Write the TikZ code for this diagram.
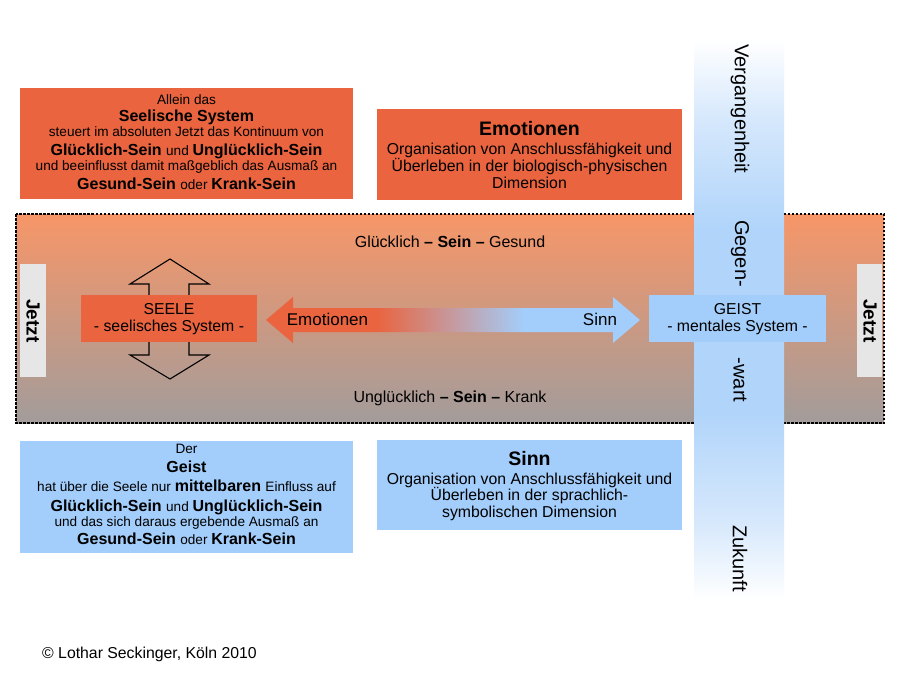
\documentclass[tikz,border=0pt]{standalone}
\usepackage{fontspec}
\setmainfont{Liberation Sans}
\definecolor{orangebox}{RGB}{233,100,63}
\definecolor{bluebox}{RGB}{163,205,250}
\definecolor{bandtop}{RGB}{247,150,104}
\definecolor{bandmid}{RGB}{220,150,122}
\definecolor{bandbot}{RGB}{162,156,155}
\definecolor{jetztbox}{RGB}{230,230,230}
\definecolor{barblue}{RGB}{176,212,250}
\definecolor{barlight}{RGB}{214,232,252}
\pgfdeclareverticalshading{barshade}{100bp}{color(0bp)=(white); color(25bp)=(white); color(32bp)=(barlight); color(42bp)=(barblue); color(58bp)=(barblue); color(68bp)=(barlight); color(75bp)=(white); color(100bp)=(white)}
\pgfdeclarehorizontalshading{arrowshade}{100bp}{color(0bp)=(orangebox); color(25bp)=(orangebox); color(39.8bp)=(orangebox); color(59.4bp)=(bluebox); color(75bp)=(bluebox); color(100bp)=(bluebox)}
\newcommand\Fsm{\fontsize{13.6}{15}\selectfont\mdseries}
\newcommand\Fbd{\fontsize{16}{18}\selectfont\bfseries}
\newcommand\Fmd{\fontsize{15.8}{18}\selectfont\mdseries}
\newcommand\Fttl{\fontsize{19.5}{22}\selectfont\bfseries}
\newcommand\Fband{\fontsize{16}{18}\selectfont\mdseries}
\newcommand\Flab{\fontsize{17}{19}\selectfont\mdseries}
\newcommand\Fvert{\fontsize{20}{22}\selectfont\mdseries}
\newcommand\Fjetzt{\fontsize{19}{22}\selectfont\bfseries}
\begin{document}
\begin{tikzpicture}[x=1pt,y=-1pt,
  txt/.style={anchor=base, inner sep=0pt},
  vtxt/.style={rotate=-90, inner sep=0pt, font=\Fvert},
  jtxt/.style={rotate=-90, inner sep=0pt, font=\Fjetzt},
  border/.style={draw=black, line width=1.1pt, dash pattern=on 2.5pt off 1.5pt},
  outlinearrow/.style={draw=black, line width=1.1pt, line join=miter}]
\useasboundingbox (0,0) rectangle (899,675);
\fill[white] (0,0) rectangle (899,675);

% top and bottom boxes
\fill[orangebox] (20,88) rectangle (353,199);
\fill[orangebox] (377,109) rectangle (682,200);
\fill[bluebox] (20,441) rectangle (353,553);
\fill[bluebox] (377,440) rectangle (682,530);

% band
\shade[top color=bandtop, middle color=bandmid, bottom color=bandbot] (16,214) rectangle (884,423);
\draw[border] (16,214) rectangle (884,423);

% Jetzt boxes
\fill[jetztbox] (20,264) rectangle (46,377);
\fill[jetztbox] (857,264) rectangle (882,377);
\node[jtxt] (jl) at (33,321) {Jetzt};
\node[jtxt] (jr) at (870,321) {Jetzt};

% vertical time bar
\shade[shading=barshade] (694,40) rectangle (784,600);
\node[vtxt] (v1) at (740,109) {Vergangenheit};
\node[vtxt] (v2) at (740,253.5) {Gegen-};
\node[vtxt] (v3) at (740,380) {-wart};
\node[vtxt] (v4) at (740,558.5) {Zukunft};

% double arrow (up/down) behind SEELE
\draw[outlinearrow] (149,284) -- (130,284) -- (170,259) -- (209,284) -- (189,284) -- (189,355) -- (209,355) -- (170,379) -- (130,355) -- (149,355) -- cycle;

% Emotionen / Sinn arrow
\shade[shading=arrowshade] (266,320) -- (293,297) -- (293,308) -- (613,308) -- (613,297) -- (640,320) -- (613,343) -- (613,332) -- (293,332) -- (293,343) -- cycle;
\node[txt, font=\Flab] (emo) at (327.5,325.7) {Emotionen};
\node[txt, font=\Flab] (sinn) at (600,325.7) {Sinn};

% SEELE and GEIST boxes
\fill[orangebox] (81,295) rectangle (257,342);
\node[txt, font=\Fmd] (se1) at (169,314.7) {SEELE};
\node[txt, font=\Fmd] (se2) at (169,331.5) {- seelisches System -};
\fill[bluebox] (649,295) rectangle (826,342);
\node[txt, font=\Fmd] (ge1) at (737.5,314.5) {GEIST};
\node[txt, font=\Fmd] (ge2) at (737.5,331.5) {- mentales System -};

% band texts
\node[txt, font=\Fband] (g1) at (450,247.3) {Glücklich \textbf{– Sein –} Gesund};
\node[txt, font=\Fband] (g2) at (450,402.7) {Unglücklich \textbf{– Sein –} Krank};

% top-left box text
\node[txt] (a1) at (186.5,104) {\Fsm Allein das};
\node[txt] (a2) at (186.5,121) {\Fbd Seelische System};
\node[txt] (a3) at (186.5,136) {\Fsm steuert im absoluten Jetzt das Kontinuum von};
\node[txt] (a4) at (186.5,155.3) {\Fbd Glücklich-Sein \Fsm und \Fbd Unglücklich-Sein};
\node[txt] (a5) at (186.5,170.5) {\Fsm und beeinflusst damit maßgeblich das Ausmaß an};
\node[txt] (a6) at (186.5,189.5) {\Fbd Gesund-Sein \Fsm oder \Fbd Krank-Sein};

% top-right box text
\node[txt] (e1) at (529.5,135.3) {\Fttl Emotionen};
\node[txt] (e2) at (529.5,154) {\Fmd Organisation von Anschlussfähigkeit und};
\node[txt] (e3) at (529.5,171) {\Fmd Überleben in der biologisch-physischen};
\node[txt] (e4) at (529.5,188) {\Fmd Dimension};

% bottom-left box text
\node[txt] (b1) at (186.5,453) {\Fsm Der};
\node[txt] (b2) at (186.5,472.7) {\Fbd Geist};
\node[txt] (b3) at (186.5,491) {\Fsm hat über die Seele nur \Fbd mittelbaren \Fsm Einfluss auf};
\node[txt] (b4) at (186.5,511) {\Fbd Glücklich-Sein \Fsm und \Fbd Unglücklich-Sein};
\node[txt] (b5) at (186.5,526.3) {\Fsm und das sich daraus ergebende Ausmaß an};
\node[txt] (b6) at (186.5,544.7) {\Fbd Gesund-Sein \Fsm oder \Fbd Krank-Sein};

% bottom-right box text
\node[txt] (s1) at (529.5,465.3) {\Fttl Sinn};
\node[txt] (s2) at (529.5,484) {\Fmd Organisation von Anschlussfähigkeit und};
\node[txt] (s3) at (529.5,500.5) {\Fmd Überleben in der sprachlich-};
\node[txt] (s4) at (529.5,517.7) {\Fmd symbolischen Dimension};

% copyright
\node[anchor=base west, inner sep=0pt] (copy) at (42,658) {\fontsize{15.8}{18}\selectfont © Lothar Seckinger, Köln 2010};
\end{tikzpicture}
\end{document}
